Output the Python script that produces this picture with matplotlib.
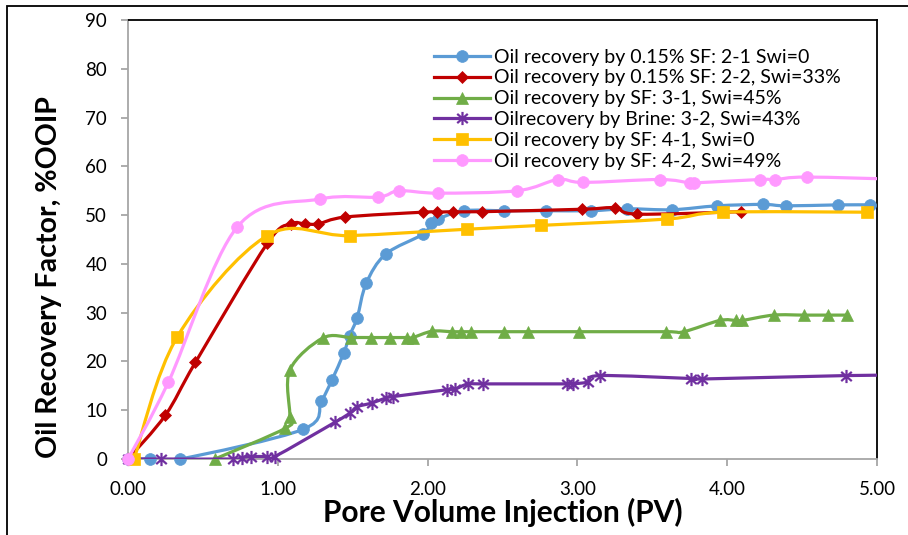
import matplotlib
matplotlib.use("Agg")
import matplotlib.pyplot as plt
import numpy as np
from matplotlib.path import Path
from matplotlib.patches import PathPatch, Rectangle
from matplotlib.lines import Line2D
from matplotlib.ticker import FixedLocator, FormatStrFormatter

plt.rcParams["font.family"] = ["Lato", "DejaVu Sans"]

# Series data: pore volumes injected (PV) and oil recovery (%OOIP)
pv_21 = [0, 0.15, 0.35, 1.17, 1.29, 1.36, 1.44, 1.48, 1.53, 1.59, 1.72, 1.97,
         2.02, 2.07, 2.24, 2.51, 2.79, 3.09, 3.33, 3.63, 3.93, 4.24, 4.39, 4.74, 4.95]
rf_21 = [0, 0, 0, 6.1, 11.8, 16.1, 21.7, 25.3, 29.0, 36.0, 42.0, 46.1,
         48.3, 49.2, 50.9, 50.9, 50.9, 50.9, 51.3, 51.1, 51.9, 52.2, 51.9, 52.1, 52.1]

pv_22 = [0, 0.25, 0.45, 0.93, 1.09, 1.18, 1.27, 1.45, 1.97, 2.06, 2.17, 2.36,
         3.03, 3.25, 3.40, 4.09]
rf_22 = [0, 9.0, 19.8, 44.2, 48.2, 48.2, 48.2, 49.6, 50.6, 50.6, 50.7, 50.7,
         51.2, 51.5, 50.2, 50.7]

pv_31 = [0.58, 1.05, 1.08, 1.08, 1.30, 1.49, 1.62, 1.75, 1.86, 1.90, 2.03, 2.16,
         2.22, 2.29, 2.51, 2.67, 3.01, 3.59, 3.71, 3.95, 4.06, 4.10, 4.31, 4.51,
         4.67, 4.80]
rf_31 = [0, 6.3, 8.7, 18.2, 24.8, 24.9, 24.9, 24.9, 24.9, 24.9, 26.2, 26.1,
         26.1, 26.1, 26.1, 26.1, 26.1, 26.1, 26.1, 28.4, 28.4, 28.4, 29.5, 29.5,
         29.5, 29.5]

pv_32 = [0, 0.22, 0.70, 0.76, 0.82, 0.93, 0.98, 1.38, 1.48, 1.53, 1.63, 1.72,
         1.77, 2.13, 2.18, 2.27, 2.37, 2.93, 2.97, 3.07, 3.15, 3.76, 3.83, 4.79, 5.2]
rf_32 = [0, 0, 0, 0.3, 0.5, 0.5, 0.5, 7.5, 9.4, 10.7, 11.5, 12.5,
         12.8, 14.2, 14.3, 15.4, 15.4, 15.4, 15.4, 15.8, 17.1, 16.5, 16.4, 17.1, 17.2]

pv_41 = [0.04, 0.33, 0.93, 1.48, 2.26, 2.76, 3.60, 3.97, 4.93]
rf_41 = [0, 25.1, 45.8, 45.8, 47.1, 47.9, 49.2, 50.6, 50.6]

pv_42 = [0, 0.27, 0.73, 1.28, 1.67, 1.81, 2.07, 2.60, 2.87, 3.04, 3.55, 3.75,
         3.78, 4.22, 4.32, 4.53, 5.2]
rf_42 = [0, 15.8, 47.6, 53.3, 53.7, 55.0, 54.5, 55.0, 57.3, 56.7, 57.3, 56.6,
         56.6, 57.3, 57.3, 57.8, 57.3]

labels = [
    "Oil recovery by 0.15% SF: 2-1 Swi=0",
    "Oil recovery by 0.15% SF: 2-2, Swi=33%",
    "Oil recovery by SF: 3-1, Swi=45%",
    "Oilrecovery by Brine: 3-2, Swi=43%",
    "Oil recovery by SF: 4-1, Swi=0",
    "Oil recovery by SF: 4-2, Swi=49%",
]

x_ticks = [0, 1, 2, 3, 4, 5]
y_ticks = [0, 10, 20, 30, 40, 50, 60, 70, 80, 90]
X_MAX, Y_MAX = 5, 90

# Asterisk-style marker: vertical bar plus a cross
star = Path(
    [(0, -1), (0, 1), (-0.8, -0.7), (0.8, 0.7), (-0.8, 0.7), (0.8, -0.7)],
    [Path.MOVETO, Path.LINETO, Path.MOVETO, Path.LINETO, Path.MOVETO, Path.LINETO],
)

styles = [
    dict(color="#5B9BD5", marker="o", ms=8.5),
    dict(color="#C00000", marker="D", ms=6.5),
    dict(color="#70AD47", marker="^", ms=8.5),
    dict(color="#7030A0", marker=star, ms=9.5),
    dict(color="#FFC000", marker="s", ms=8.5),
    dict(color="#FF99FF", marker="o", ms=8.5),
]
series = [(pv_21, rf_21), (pv_22, rf_22), (pv_31, rf_31),
          (pv_32, rf_32), (pv_41, rf_41), (pv_42, rf_42)]


def smooth_path(x, y):
    """Cubic Bezier path through the points (Catmull-Rom style tangents)."""
    p = np.column_stack([x, y]).astype(float)
    n = len(p)
    verts = [p[0]]
    codes = [Path.MOVETO]
    for i in range(n - 1):
        p0 = p[i - 1] if i > 0 else p[i]
        p1 = p[i]
        p2 = p[i + 1]
        p3 = p[i + 2] if i + 2 < n else p[i + 1]
        c1 = p1 + (p2 - p0) / 6.0
        c2 = p2 - (p3 - p1) / 6.0
        verts += [c1, c2, p2]
        codes += [Path.CURVE4] * 3
    return Path(verts, codes)


fig = plt.figure(figsize=(9.08, 5.35), dpi=100)
ax = fig.add_axes([128 / 908, 1 - 459 / 535, 749 / 908, 439 / 535])

LW = 2.3
handles = []
for k, ((x, y), st, lab) in enumerate(zip(series, styles, labels)):
    z = 2 + 0.1 * k
    patch = PathPatch(smooth_path(x, y), fill=False, edgecolor=st["color"],
                      lw=LW, capstyle="round", joinstyle="round", zorder=z)
    ax.add_patch(patch)
    is_star = st["marker"] is star
    xa = np.asarray(x, float)
    ya = np.asarray(y, float)
    inside = xa <= X_MAX
    ax.plot(xa[inside], ya[inside], linestyle="none", marker=st["marker"],
            ms=st["ms"], color=st["color"], mec=st["color"],
            mew=1.6 if is_star else 0.5, mfc=st["color"], clip_on=False,
            zorder=z + 0.05)
    handles.append(Line2D([], [], color=st["color"], lw=LW, marker=st["marker"],
                          ms=st["ms"], mec=st["color"], mfc=st["color"],
                          mew=1.6 if is_star else 0.5))

ax.set_xlim(0, X_MAX)
ax.set_ylim(0, Y_MAX)
ax.xaxis.set_major_locator(FixedLocator(x_ticks))
ax.yaxis.set_major_locator(FixedLocator(y_ticks))
ax.xaxis.set_major_formatter(FormatStrFormatter("%.2f"))

grey = "#A6A6A6"
ax.spines["left"].set_color(grey)
ax.spines["bottom"].set_color(grey)
ax.spines["top"].set_color("black")
ax.spines["right"].set_color("black")
for s in ax.spines.values():
    s.set_linewidth(1.3)
    s.set_zorder(0.5)
ax.tick_params(axis="both", direction="out", length=5, width=1.3, color=grey,
               labelsize=13.5, labelcolor="black")
ax.tick_params(axis="y", pad=10)
ax.tick_params(axis="x", pad=11)

ax.set_xlabel("Pore Volume Injection (PV)", fontsize=21.5, fontweight="bold", labelpad=0)
ax.set_ylabel("Oil Recovery Factor, %OOIP", fontsize=20.5, fontweight="bold")
ax.yaxis.set_label_coords(-0.088, 0.415)

leg = ax.legend(handles, labels, loc="upper left", bbox_to_anchor=(0.408, 0.935),
                frameon=False, fontsize=14, handlelength=2.9, handletextpad=0.2,
                borderpad=0, borderaxespad=0, labelspacing=0.2)
leg.set_zorder(5)

# Outer frame of the figure
fig.add_artist(Rectangle((7 / 908, -0.2), 1.2, 1.2 - 6 / 535,
                         transform=fig.transFigure, fill=False,
                         edgecolor="black", lw=1.3))

fig.savefig("out.png", dpi=100)
